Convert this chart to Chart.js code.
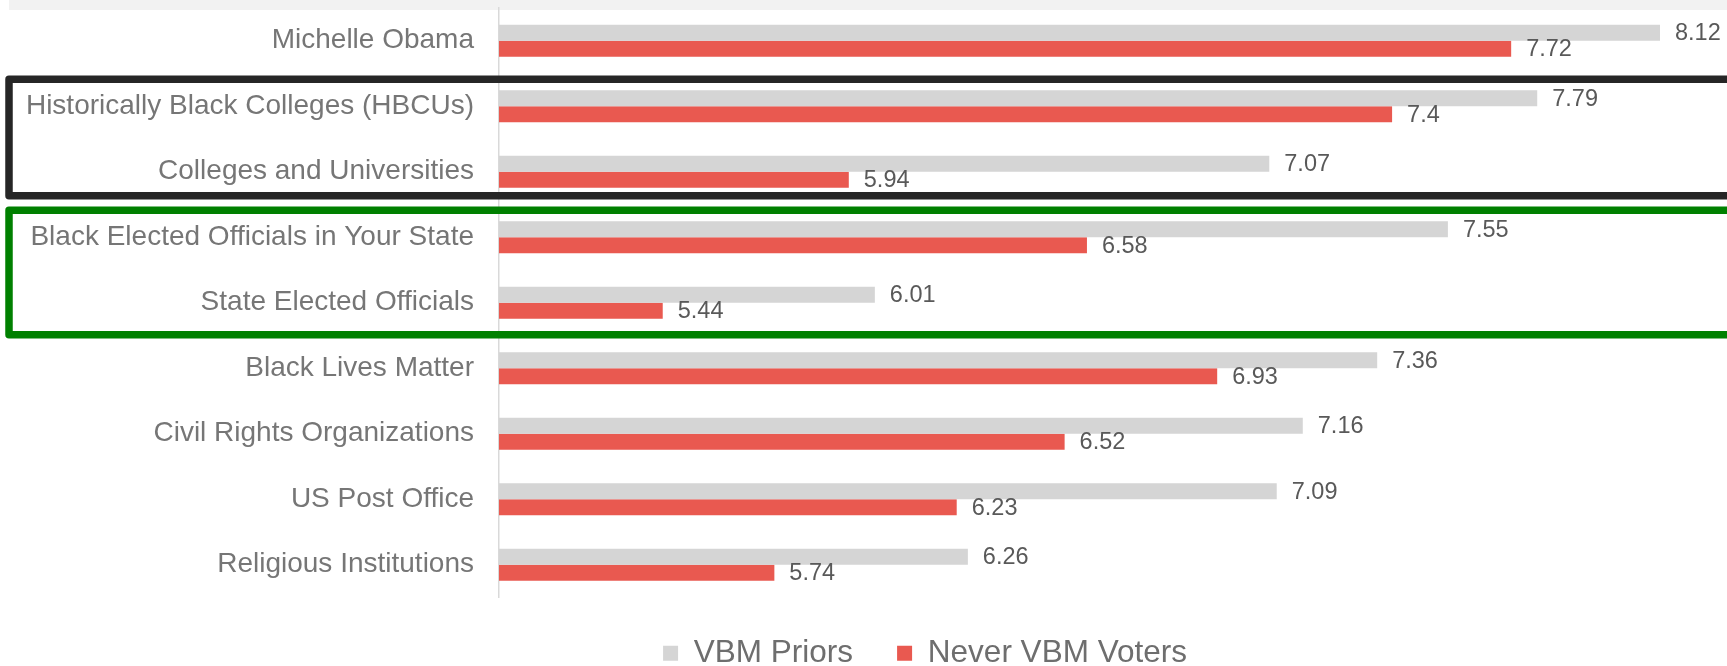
<!DOCTYPE html>
<html>
<head>
<meta charset="utf-8">
<script src="https://cdn.jsdelivr.net/npm/chart.js@4.4.1/dist/chart.umd.min.js"></script>
<style>
  html, body { margin: 0; padding: 0; background: #fff; overflow: hidden; }
  #wrap { width: 1727px; height: 666px; position: relative; }
</style>
</head>
<body>
<div id="wrap"><canvas id="chart"></canvas></div>
<script>
const categories = [
  'Michelle Obama',
  'Historically Black Colleges (HBCUs)',
  'Colleges and Universities',
  'Black Elected Officials in Your State',
  'State Elected Officials',
  'Black Lives Matter',
  'Civil Rights Organizations',
  'US Post Office',
  'Religious Institutions'
];
const seriesNames = ['VBM Priors', 'Never VBM Voters'];
const vbmPriors = [8.12, 7.79, 7.07, 7.55, 6.01, 7.36, 7.16, 7.09, 6.26];
const neverVbm = [7.72, 7.4, 5.94, 6.58, 5.44, 6.93, 6.52, 6.23, 5.74];

const FONT = '"Liberation Sans", Arial, sans-serif';

// outlined groups of categories (first index, last index)
const groupFrames = [
  { from: 1, to: 2, color: '#262626', above: 27, below: 24 },
  { from: 3, to: 4, color: '#008000', above: 27, below: 32 }
];

const valueLabels = {
  id: 'valueLabels',
  afterDatasetsDraw(chart) {
    const ctx = chart.ctx;
    ctx.save();
    ctx.font = '23.5px ' + FONT;
    ctx.fillStyle = '#595959';
    ctx.textBaseline = 'middle';
    ctx.textAlign = 'left';
    chart.data.datasets.forEach((ds, i) => {
      chart.getDatasetMeta(i).data.forEach((bar, j) => {
        ctx.fillText(String(ds.data[j]), bar.x + 15, bar.y + 1);
      });
    });
    ctx.restore();
  }
};

const frames = {
  id: 'frames',
  beforeDraw(chart) {
    const ctx = chart.ctx;
    ctx.save();
    ctx.fillStyle = '#f2f2f2';
    ctx.fillRect(9, 0, chart.width, 10);
    ctx.restore();
  },
  afterDraw(chart) {
    const ctx = chart.ctx;
    const y = chart.scales.y;
    ctx.save();
    ctx.lineWidth = 7.5;
    ctx.lineJoin = 'round';
    groupFrames.forEach(f => {
      const top = y.getPixelForTick(f.from) - f.above;
      const bottom = y.getPixelForTick(f.to) + f.below;
      ctx.strokeStyle = f.color;
      ctx.strokeRect(9, top, chart.width + 20, bottom - top);
    });
    ctx.restore();
  }
};

// nudge the legend to where it sits in the original
const legendShift = {
  id: 'legendShift',
  afterLayout(chart) {
    const lg = chart.legend;
    if (!lg) return;
    const dx = 925 - (lg.left + lg.right) / 2;
    lg.left += dx;
    lg.right += dx;
    lg.top -= 4;
    lg.bottom -= 4;
  }
};

new Chart(document.getElementById('chart'), {
  type: 'bar',
  data: {
    labels: categories,
    datasets: [{
      label: seriesNames[0],
      data: vbmPriors,
      backgroundColor: '#d5d5d5',
      borderColor: '#d5d5d5',
      borderWidth: 0
    }, {
      label: seriesNames[1],
      data: neverVbm,
      backgroundColor: '#e95950',
      borderColor: '#e95950',
      borderWidth: 0
    }]
  },
  options: {
    indexAxis: 'y',
    responsive: true,
    maintainAspectRatio: false,
    animation: false,
    layout: { padding: { top: 8, right: 0, left: 0, bottom: -17 } },
    datasets: {
      bar: { categoryPercentage: 0.49, barPercentage: 1 }
    },
    scales: {
      x: {
        display: false,
        min: 5,
        max: 8.3
      },
      y: {
        grid: { display: false, drawTicks: false },
        border: { display: true, color: '#d9d9d9', width: 1.5 },
        ticks: {
          padding: 25,
          color: '#767676',
          font: { family: FONT, size: 28 }
        },
        afterFit(scale) {
          scale.width = 499;
          scale.paddingTop = 0;
          scale.paddingBottom = 0;
        }
      }
    },
    plugins: {
      tooltip: { enabled: false },
      legend: {
        position: 'bottom',
        labels: {
          boxWidth: 15,
          boxHeight: 15,
          padding: 44,
          color: '#6e6e6e',
          font: { family: FONT, size: 31.5 }
        }
      }
    }
  },
  plugins: [frames, valueLabels, legendShift]
});
</script>
</body>
</html>
